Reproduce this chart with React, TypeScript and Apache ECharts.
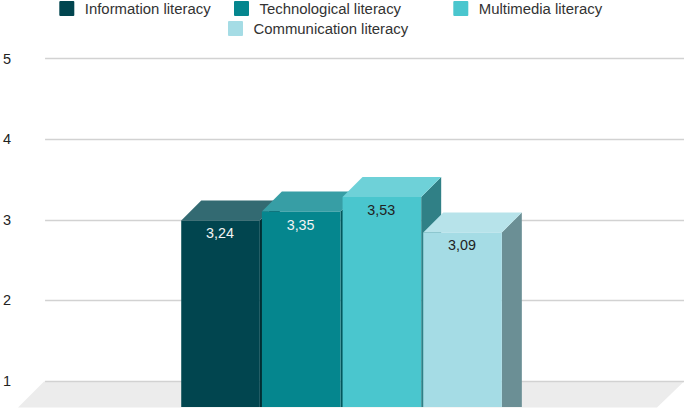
import React, { useEffect, useRef } from "react";
import * as echarts from "echarts";

const seriesNames = ["Information literacy", "Technological literacy", "Multimedia literacy", "Communication literacy"];
const seriesValues = [3.24, 3.35, 3.53, 3.09];
const frontColors = ["#01454f", "#05868e", "#4ac6ce", "#a5dce5"];
const topColors = ["#336a72", "#379ea5", "#6ed1d8", "#b7e3ea"];
const sideColors = ["#012d33", "#03575c", "#308086", "#6b8f95"];
const labelColors = ["#f4f4f4", "#f4f4f4", "#222222", "#222222"];
const yTicks = { min: 1, max: 5, interval: 1 };

const FONT = '"Liberation Sans", Arial, sans-serif';
const DEPTH = 20;
const PITCH = 80.67;
const BAR_W = 78.6;
const FRONT_OFFSET = -183.3; // first bar's left edge, measured from the band centre
const BASE_DROP = 26;
const LEGEND_ICON = "path://M1 0H14Q15 0 15 1V14Q15 15 14 15H1Q0 15 0 14V1Q0 0 1 0Z";

const legendPlaces = [
  { left: 59.3, top: 1 },
  { left: 234, top: 1 },
  { left: 453.3, top: 1 },
  { left: 228, top: 21 },
];

function makeRender(i: number) {
  return (_params: any, api: any) => {
    const value = api.value(1);
    const centre = api.coord([0, value]);
    const base = api.coord([0, yTicks.min]);
    const left = centre[0] + FRONT_OFFSET + i * PITCH;
    const right = left + BAR_W;
    const top = centre[1] + DEPTH;
    const bottom = base[1] + BASE_DROP;
    return {
      type: "group",
      children: [
        {
          type: "polygon",
          shape: { points: [[right, top], [right + DEPTH, top - DEPTH], [right + DEPTH, bottom], [right, bottom]] },
          style: { fill: sideColors[i] },
        },
        {
          type: "polygon",
          shape: { points: [[left, top], [left + DEPTH, top - DEPTH], [right + DEPTH, top - DEPTH], [right, top]] },
          style: { fill: topColors[i] },
        },
        { type: "rect", shape: { x: left, y: top, width: BAR_W, height: bottom - top }, style: { fill: frontColors[i] } },
        {
          type: "text",
          style: {
            x: (left + right) / 2 - 0.6,
            y: top + 13,
            text: value.toFixed(2).replace(".", ","),
            fill: labelColors[i],
            font: `14.3px ${FONT}`,
            textAlign: "center",
            textVerticalAlign: "middle",
          },
        },
      ],
    };
  };
}

export default function App() {
  const ref = useRef<HTMLDivElement>(null);
  useEffect(() => {
    document.body.style.margin = "0";
    const chart = echarts.init(ref.current!, undefined, { renderer: "svg" });
    chart.setOption({
      animation: false,
      backgroundColor: "#ffffff",
      grid: { left: 44, right: 1, top: 58.5, height: 322.5 },
      xAxis: { type: "category", data: [""], show: false },
      yAxis: {
        type: "value",
        ...yTicks,
        axisLine: { show: false },
        axisTick: { show: false },
        axisLabel: { color: "#222222", fontSize: 14.5, fontFamily: FONT, margin: 34 },
        splitLine: { lineStyle: { color: "#d2d2d2", width: 1.4 } },
      },
      legend: seriesNames.map((name, i) => ({
        ...legendPlaces[i],
        data: [name],
        icon: LEGEND_ICON,
        itemWidth: 15,
        itemHeight: 15,
        itemGap: 0,
        padding: 0,
        textStyle: { color: "#333333", fontSize: 14.9, fontFamily: FONT, padding: [0, 0, 0, 5.5] },
        selectedMode: false,
      })),
      graphic: [
        {
          type: "polygon",
          z: -1,
          silent: true,
          shape: { points: [[44, 381.5], [684, 381.5], [657, 407.5], [18, 407.5]] },
          style: { fill: "#ececec" },
        },
      ],
      series: seriesNames.map((name, i) => ({
        type: "custom",
        name,
        data: [[0, seriesValues[i]]],
        itemStyle: { color: frontColors[i] },
        z: 3 + i,
        renderItem: makeRender(i),
        encode: { x: 0, y: 1 },
      })),
    });
    return () => chart.dispose();
  }, []);
  return <div ref={ref} style={{ width: 685, height: 409 }} />;
}
